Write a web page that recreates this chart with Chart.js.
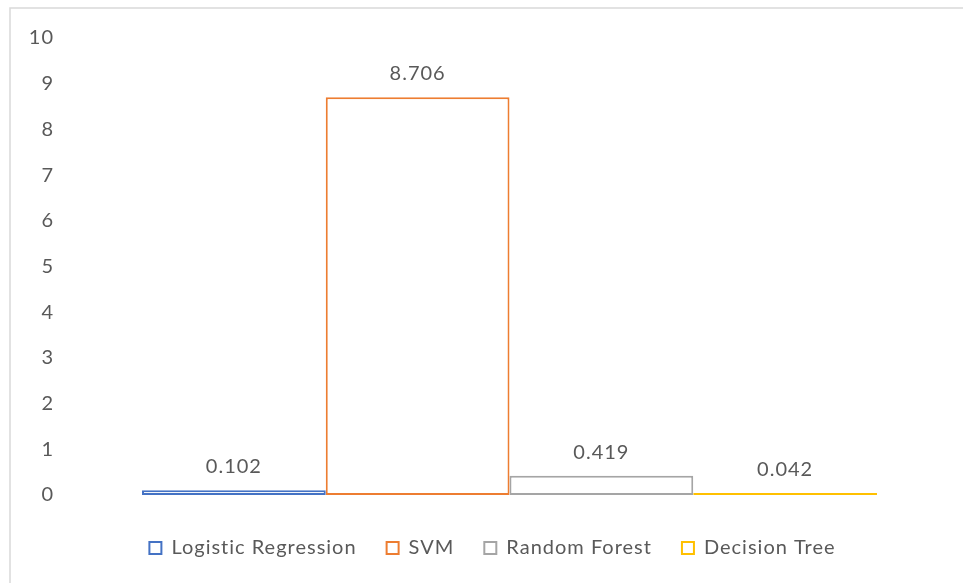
<!DOCTYPE html>
<html>
<head>
<meta charset="utf-8">
<script src="https://cdn.jsdelivr.net/npm/chart.js@4/dist/chart.umd.min.js"></script>
<style>
  html, body { margin: 0; padding: 0; background: #ffffff; }
  canvas { display: block; }
</style>
</head>
<body>
<canvas id="chart" width="963" height="583"></canvas>
<script>
// Model timings and their series colours
const models = ['Logistic Regression', 'SVM', 'Random Forest', 'Decision Tree'];
const values = [0.102, 8.706, 0.419, 0.042];
const colors = ['#4472C4', '#ED7D31', '#A5A5A5', '#FFC000'];
const yTicks = [0, 1, 2, 3, 4, 5, 6, 7, 8, 9, 10];

const FONT = 'Lato, "Open Sans", "Noto Sans", sans-serif';
const TEXT = '#595959';

// Slightly open letter spacing for every text on the canvas
const spacing = {
  id: 'spacing',
  beforeLayout(chart) { chart.ctx.letterSpacing = '1px'; },
  beforeDraw(chart) { chart.ctx.letterSpacing = '1px'; }
};

// White page plus the thin frame around the chart
const framePlugin = {
  id: 'frame',
  beforeDraw(chart) {
    const ctx = chart.ctx;
    ctx.save();
    ctx.fillStyle = '#ffffff';
    ctx.fillRect(0, 0, chart.width, chart.height);
    ctx.strokeStyle = '#d9d9d9';
    ctx.lineWidth = 1.5;
    ctx.strokeRect(10, 8, chart.width + 20, chart.height + 20);
    ctx.restore();
  }
};

// Value printed above each bar
const valueLabels = {
  id: 'valueLabels',
  afterDatasetsDraw(chart) {
    const ctx = chart.ctx;
    ctx.save();
    ctx.font = '20px ' + FONT;
    ctx.fillStyle = TEXT;
    ctx.textAlign = 'center';
    ctx.textBaseline = 'alphabetic';
    chart.data.datasets.forEach((ds, i) => {
      const bar = chart.getDatasetMeta(i).data[0];
      ctx.fillText(ds.data[0].toFixed(3), bar.x, bar.y - 17);
    });
    ctx.restore();
  }
};

const datasets = models.map((name, i) => ({
  label: name,
  data: [values[i]],
  backgroundColor: '#ffffff',
  borderColor: colors[i],
  borderWidth: 2,
  borderSkipped: false,
  barPercentage: 1,
  categoryPercentage: 0.8212
}));

new Chart(document.getElementById('chart'), {
  type: 'bar',
  data: { labels: [''], datasets },
  options: {
    responsive: false,
    animation: false,
    layout: { padding: { top: 38, left: 28, right: 6, bottom: 15 } },
    scales: {
      x: {
        grid: { display: false, drawTicks: false },
        border: { display: false },
        ticks: { display: false },
        afterFit: s => { s.height = 13; }
      },
      y: {
        min: 0,
        max: 10,
        grid: { display: false, drawTicks: false },
        border: { display: false },
        afterBuildTicks: s => { s.ticks = yTicks.map(v => ({ value: v })); },
        ticks: {
          padding: 8,
          color: TEXT,
          font: { family: FONT, size: 20 }
        },
        afterFit: s => { s.width = 34; }
      }
    },
    plugins: {
      tooltip: { enabled: false },
      legend: {
        position: 'bottom',
        fullSize: true,
        labels: {
          boxWidth: 12,
          boxHeight: 12,
          padding: 30,
          color: TEXT,
          font: { family: FONT, size: 20 }
        }
      }
    }
  },
  plugins: [spacing, framePlugin, valueLabels]
});
</script>
</body>
</html>
